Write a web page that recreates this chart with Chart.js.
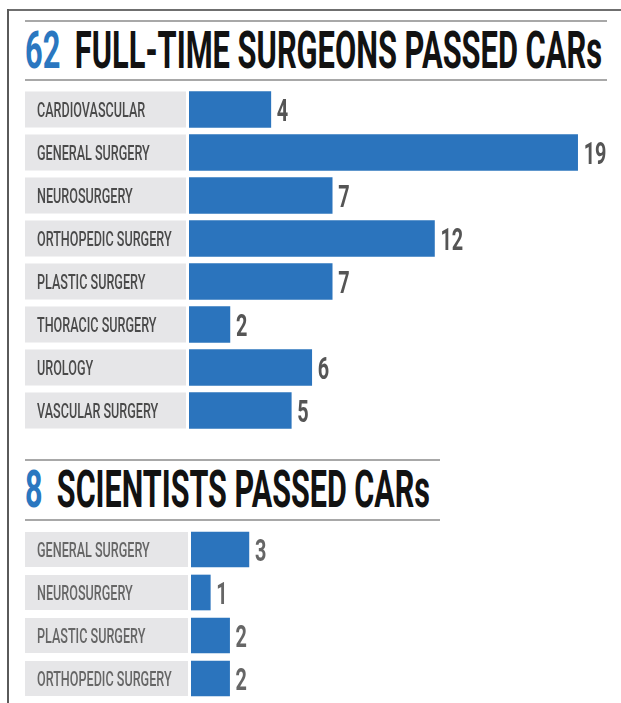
<!DOCTYPE html>
<html>
<head>
<meta charset="utf-8">
<script src="https://cdn.jsdelivr.net/npm/chart.js@4.4.1/dist/chart.umd.min.js"></script>
<style>
  html, body { margin: 0; padding: 0; background: #ffffff; }
  #page { position: relative; width: 621px; height: 703px; overflow: hidden; background: #fff; }
  .frameTop { position: absolute; left: 8px; top: 9px; width: 613px; height: 2px; background: #6f6f6f; }
  .frameLeft { position: absolute; left: 7px; top: 9px; width: 2px; height: 694px; background: #5a5a5a; }
  .rule { position: absolute; height: 2px; background: #a8a8a8; }
  .title { position: absolute; left: 25px; white-space: nowrap; font-family: Roboto, "Liberation Sans", sans-serif;
           font-weight: 700; font-size: 51px; line-height: 59.8px; color: #121212; transform-origin: 0 0; }
  .title .num { color: #2a77c0; margin-right: 24px; }
  canvas { position: absolute; left: 0; }
</style>
</head>
<body>
<div id="page">
  <div class="frameTop"></div>
  <div class="frameLeft"></div>

  <div class="rule" style="left:25px; top:20px; width:582px;"></div>
  <div class="title" id="title1"><span class="num" id="num1"></span><span id="text1"></span></div>
  <div class="rule" style="left:25px; top:79px; width:582px;"></div>
  <canvas id="chartSurgeons" width="621" height="344" style="top:88px;"></canvas>

  <div class="rule" style="left:25px; top:459px; width:415px;"></div>
  <div class="title" id="title2"><span class="num" id="num2"></span><span id="text2"></span></div>
  <div class="rule" style="left:25px; top:519px; width:415px;"></div>
  <canvas id="chartScientists" width="621" height="172" style="top:528px;"></canvas>
</div>

<script>
// ---------------- data ----------------
const surgeonTotal = 62;
const surgeonTitle = "FULL-TIME SURGEONS PASSED CARs";
const surgeonCategories = [
  "CARDIOVASCULAR",
  "GENERAL SURGERY",
  "NEUROSURGERY",
  "ORTHOPEDIC SURGERY",
  "PLASTIC SURGERY",
  "THORACIC SURGERY",
  "UROLOGY",
  "VASCULAR SURGERY"
];
const surgeonCounts = [4, 19, 7, 12, 7, 2, 6, 5];

const scientistTotal = 8;
const scientistTitle = "SCIENTISTS PASSED CARs";
const scientistCategories = [
  "GENERAL SURGERY",
  "NEUROSURGERY",
  "PLASTIC SURGERY",
  "ORTHOPEDIC SURGERY"
];
const scientistCounts = [3, 1, 2, 2];

// ---------------- titles ----------------
const TITLE_SIZE = 51;
function setTitle(id, numId, textId, num, text, targetWidth, baseline) {
  document.getElementById(numId).textContent = String(num);
  document.getElementById(textId).textContent = text;
  const el = document.getElementById(id);
  const w = el.getBoundingClientRect().width;
  el.style.transform = "scaleX(" + (targetWidth / w) + ")";
  el.style.top = (baseline - 0.9277 * TITLE_SIZE) + "px";
}
setTitle("title1", "num1", "text1", surgeonTotal, surgeonTitle, 577, 68);
setTitle("title2", "num2", "text2", scientistTotal, scientistTitle, 405, 507);

// ---------------- charts ----------------
const BLUE = "#2b74bd";
const BOX = "#e6e6e8";
const FONT = 'Roboto, "Liberation Sans", sans-serif';

function condensedText(ctx, text, x, y, sx) {
  ctx.save();
  ctx.translate(x, y);
  ctx.scale(sx, 1);
  ctx.fillText(text, 0, 0);
  ctx.restore();
}

function rowDecor(cfg) {
  return {
    id: "rowDecor",
    beforeDatasetsDraw(chart) {
      const ctx = chart.ctx;
      const ys = chart.scales.y;
      ctx.save();
      chart.data.labels.forEach((lab, i) => {
        const c = ys.getPixelForValue(i);
        ctx.fillStyle = BOX;
        ctx.fillRect(25, c - cfg.half, cfg.boxRight - 25, cfg.half * 2);
        ctx.fillStyle = cfg.labelColor;
        ctx.font = "500 20px " + FONT;
        ctx.textBaseline = "alphabetic";
        ctx.textAlign = "left";
        condensedText(ctx, lab, 37, c + 7, 0.63);
      });
      ctx.restore();
    },
    afterDatasetsDraw(chart) {
      const ctx = chart.ctx;
      const meta = chart.getDatasetMeta(0);
      const values = chart.data.datasets[0].data;
      ctx.save();
      ctx.fillStyle = cfg.valueColor;
      ctx.font = "700 32px " + FONT;
      ctx.textBaseline = "alphabetic";
      ctx.textAlign = "left";
      meta.data.forEach((bar, i) => {
        condensedText(ctx, String(values[i]), bar.x + 6, bar.y + 11.5, 0.62);
      });
      ctx.restore();
    }
  };
}

function makeChart(canvasId, labels, values, cfg) {
  return new Chart(document.getElementById(canvasId), {
    type: "bar",
    data: {
      labels: labels,
      datasets: [{
        data: values,
        backgroundColor: BLUE,
        borderWidth: 0,
        barThickness: cfg.half * 2
      }]
    },
    options: {
      indexAxis: "y",
      responsive: false,
      maintainAspectRatio: false,
      animation: false,
      events: [],
      layout: { padding: { left: cfg.left, right: 0, top: 0, bottom: 0 } },
      plugins: { legend: { display: false }, tooltip: { enabled: false } },
      scales: {
        x: { display: false, min: 0, max: cfg.max },
        y: { display: false }
      }
    },
    plugins: [rowDecor(cfg)]
  });
}

makeChart("chartSurgeons", surgeonCategories, surgeonCounts, {
  half: 18, boxRight: 186, left: 189, max: 21.12,
  labelColor: "#4a4a4a", valueColor: "#555555"
});
makeChart("chartScientists", scientistCategories, scientistCounts, {
  half: 17.5, boxRight: 188, left: 191, max: 22.28,
  labelColor: "#666666", valueColor: "#666666"
});
</script>
</body>
</html>
